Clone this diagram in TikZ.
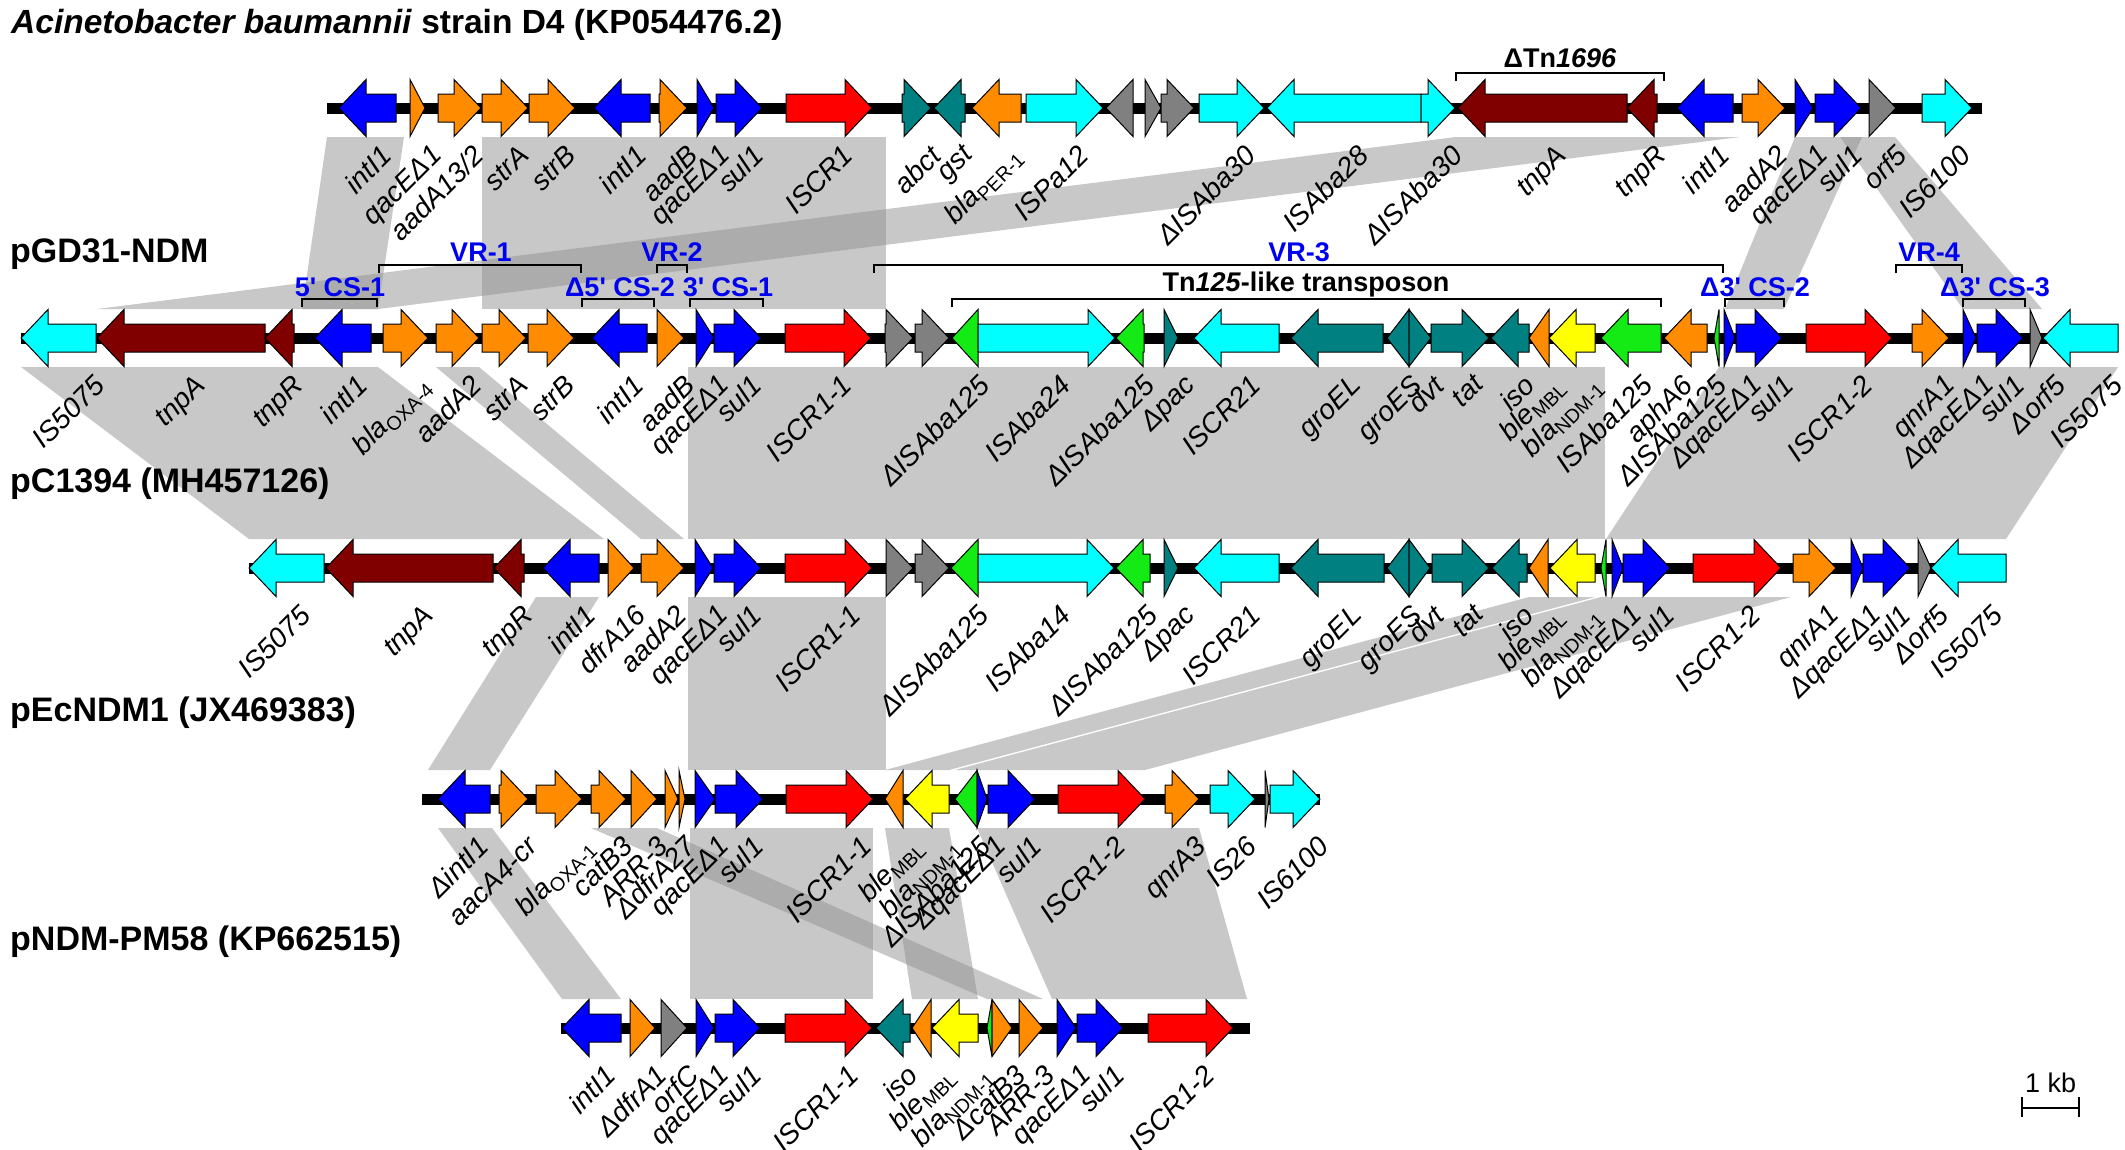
\documentclass[tikz,border=0pt]{standalone}
\usepackage{fontspec}
\setmainfont{Liberation Sans}
\definecolor{gblue}{RGB}{0,0,255}
\definecolor{gorange}{RGB}{255,140,0}
\definecolor{gcyan}{RGB}{0,255,255}
\definecolor{gdred}{RGB}{128,0,0}
\definecolor{gred}{RGB}{255,0,0}
\definecolor{gteal}{RGB}{0,128,128}
\definecolor{ggray}{RGB}{128,128,128}
\definecolor{ggreen}{RGB}{20,235,20}
\definecolor{gyellow}{RGB}{255,255,0}
\definecolor{vrblue}{RGB}{0,0,240}
\definecolor{bandc}{RGB}{146,146,146}
\newcounter{glab}
\def\ry{0}
\newcommand\sbs[1]{\textsubscript{\upshape #1}}
\newcommand\gshape[3]{%
  \pgfmathsetmacro\gHL{min(27,abs(#2-#1))}%
  \pgfmathsetmacro\gHB{(#2>#1) ? (#2-\gHL) : (#2+\gHL)}%
  \pgfmathsetmacro\yA{\ry-14}\pgfmathsetmacro\yB{\ry+14}%
  \pgfmathsetmacro\yC{\ry-28.5}\pgfmathsetmacro\yD{\ry+28.5}%
  \draw[genedraw,fill=#3] (#1,\yA) -- (\gHB,\yA) -- (\gHB,\yC) -- (#2,\ry) -- (\gHB,\yD) -- (\gHB,\yB) -- (#1,\yB) -- cycle;}
\newcommand\glab[2]{%
  \stepcounter{glab}%
  \pgfmathsetmacro\yL{\ry+35}\pgfmathsetmacro\xL{#1+12}%
  \node[genelab] (lab\arabic{glab}) at (\xL,\yL) {#2};}
% \gR[dx]{x1}{x2}{colour}{label}: arrow pointing right; \gL: pointing left
\newcommand\gR[5][0]{\gshape{#2}{#3}{#4}%
  \if\relax\detokenize{#5}\relax\else\pgfmathsetmacro\xc{(#2+#3)/2+#1}\glab{\xc}{#5}\fi}
\newcommand\gL[5][0]{\gshape{#3}{#2}{#4}%
  \if\relax\detokenize{#5}\relax\else\pgfmathsetmacro\xc{(#2+#3)/2+#1}\glab{\xc}{#5}\fi}
\newcommand\band[6]{\fill[bandf] (#3,#1) -- (#4,#1) -- (#6,#2) -- (#5,#2) -- cycle;}
\tikzset{
  genedraw/.style={draw=black, line width=1pt},
  genelab/.style={rotate=45, anchor=north east, inner sep=0pt, font=\fontsize{28}{30}\selectfont\itshape},
  bandf/.style={fill=bandc, fill opacity=0.5},
  backbone/.style={line width=11pt, black},
  brk/.style={line width=2pt, black},
  annot/.style={font=\fontsize{27}{29}\selectfont\bfseries, text=vrblue, inner sep=0pt, anchor=base},
  rowtitle/.style={font=\fontsize{34}{36}\selectfont\bfseries, anchor=base west, inner sep=0pt},
}
\begin{document}
\begin{tikzpicture}[x=1pt,y=-1pt]
\fill[white] (0,0) rectangle (2125,1149);
\useasboundingbox (0,0) rectangle (2125,1149);

% ---------- homology bands ----------
% row1 -> row2
\band{137}{309}{327}{404}{302}{378}
\band{137}{309}{482}{886}{482}{886}
\band{137}{309}{1456}{1740}{97}{378}
\band{137}{309}{1795}{1862}{1725}{1784}
\band{137}{309}{1840}{1895}{1963}{2042}
% row2 -> row3
\band{367}{539}{21}{378}{249}{604}
\band{367}{539}{436}{479}{641}{684}
\band{367}{539}{688}{1605}{688}{1605}
\band{367}{539}{1719}{2118}{1606}{2006}
% row3 -> row4
\band{597}{770}{536}{599}{428}{490}
\band{597}{770}{688}{886}{688}{886}
\band{597}{770}{1529}{1595}{885}{949}
\band{597}{770}{1601}{1791}{955}{1145}
% row4 -> row5
\band{828}{999}{438}{492}{562}{621}
\band{828}{999}{591}{657}{987}{1043}
\band{828}{999}{885}{949}{912}{978}
\band{828}{999}{690}{873}{690}{873}
\band{828}{999}{977}{1199}{1052}{1247}

% ---------- titles ----------
\node[rowtitle,font=\fontsize{33.5}{36}\selectfont\bfseries] (t0) at (11,33) {\textit{Acinetobacter baumannii} strain D4 (KP054476.2)};
\node[rowtitle] (t1) at (10,262) {pGD31-NDM};
\node[rowtitle] (t2) at (10,492) {pC1394 (MH457126)};
\node[rowtitle] (t3) at (10,721) {pEcNDM1 (JX469383)};
\node[rowtitle] (t4) at (10,950) {pNDM-PM58 (KP662515)};

% ---------- row 1 ----------
\def\ry{108}
\draw[backbone] (327,\ry) -- (1982,\ry);
\gL{339}{396}{gblue}{intI1}
\gR{410}{425}{gorange}{qacEΔ1}
\gR{438}{481}{gorange}{aadA13/2}
\gR{482}{528}{gorange}{strA}
\gR{529}{575}{gorange}{strB}
\gL{594}{650}{gblue}{intI1}
\gR{659}{687}{gorange}{aadB}
\gR{697}{714}{gblue}{qacEΔ1}
\gR{716}{762}{gblue}{sul1}
\gR{786}{872}{gred}{ISCR1}
\gR{902}{931}{gteal}{abct}
\gL{934}{965}{gteal}{gst}
\gL{972}{1021}{gorange}{bla\sbs{PER-1}}
\gR{1026}{1103}{gcyan}{ISPa12}
\gL{1106}{1133}{ggray}{}
\gR{1145}{1161}{ggray}{}
\gR{1161}{1194}{ggray}{}
\gR{1199}{1264}{gcyan}{ΔISAba30}
\gL{1267}{1421}{gcyan}{ISAba28}
\gR{1421}{1455}{gcyan}{ΔISAba30}
\gL{1458}{1627}{gdred}{tnpA}
\gL{1627}{1657}{gdred}{tnpR}
\gL{1677}{1733}{gblue}{intI1}
\gR{1742}{1785}{gorange}{aadA2}
\gR{1795}{1813}{gblue}{qacEΔ1}
\gR{1815}{1861}{gblue}{sul1}
\gR{1869}{1896}{ggray}{orf5}
\gR{1922}{1972}{gcyan}{IS6100}
\draw[brk] (1456,81) -- (1456,73) -- (1664,73) -- (1664,81);
\node[annot,text=black] (tn1696) at (1560,67) {ΔTn\textit{1696}};

% ---------- row 2 ----------
\def\ry{338}
\draw[backbone] (21,\ry) -- (2118,\ry);
\gL[22]{21}{96}{gcyan}{IS5075}
\gL{97}{265}{gdred}{tnpA}
\gL{265}{294}{gdred}{tnpR}
\gL{315}{371}{gblue}{intI1}
\gR{383}{428}{gorange}{bla\sbs{OXA-4}}
\gR{436}{479}{gorange}{aadA2}
\gR{482}{526}{gorange}{strA}
\gR{528}{574}{gorange}{strB}
\gL{592}{647}{gblue}{intI1}
\gR{657}{684}{gorange}{aadB}
\gR{696}{714}{gblue}{qacEΔ1}
\gR{714}{761}{gblue}{sul1}
\gR{785}{871}{gred}{ISCR1-1}
\gR{885}{913}{ggray}{}
\gR{915}{949}{ggray}{}
\gL{952}{978}{ggreen}{ΔISAba125}
\gR{978}{1115}{gcyan}{ISAba24}
\gL{1116}{1144}{ggreen}{ΔISAba125}
\gR{1164}{1178}{gteal}{Δpac}
\gL{1194}{1279}{gcyan}{ISCR21}
\gL{1291}{1383}{gteal}{groEL}
\gL{1387}{1409}{gteal}{groES}
\gR{1409}{1431}{gteal}{dvt}
\gR{1431}{1489}{gteal}{tat}
\gL{1491}{1529}{gteal}{iso}
\gL{1529}{1549}{gorange}{ble\sbs{MBL}}
\gL[5]{1549}{1595}{gyellow}{bla\sbs{NDM-1}}
\gL[-3]{1601}{1661}{ggreen}{ISAba125}
\gL[-17]{1664}{1707}{gorange}{aphA6}
\gL[-14]{1714}{1719}{ggreen}{ΔISAba125}
\gR[8]{1724}{1735}{gblue}{ΔqacEΔ1}
\gR[10]{1736}{1782}{gblue}{sul1}
\gR{1806}{1892}{gred}{ISCR1-2}
\gR{1912}{1949}{gorange}{qnrA1}
\gR{1963}{1976}{gblue}{ΔqacEΔ1}
\gR{1977}{2023}{gblue}{sul1}
\gR[5]{2030}{2042}{ggray}{Δorf5}
\gL[18]{2043}{2118}{gcyan}{IS5075}
% annotations
\draw[brk] (302,307) -- (302,299) -- (377,299) -- (377,307);
\node[annot] (cs1) at (340,296) {5\textquotesingle{} CS-1};
\draw[brk] (379,273) -- (379,265) -- (581,265) -- (581,273);
\node[annot] (vr1) at (481,261) {VR-1};
\draw[brk] (582,307) -- (582,299) -- (654,299) -- (654,307);
\node[annot] (cs2) at (620,296) {Δ5\textquotesingle{} CS-2};
\draw[brk] (657,273) -- (657,265) -- (687,265) -- (687,273);
\node[annot] (vr2) at (672,261) {VR-2};
\draw[brk] (690,307) -- (690,299) -- (763,299) -- (763,307);
\node[annot] (cs3) at (728,296) {3\textquotesingle{} CS-1};
\draw[brk] (874,273) -- (874,265) -- (1723,265) -- (1723,273);
\node[annot] (vr3) at (1299,261) {VR-3};
\draw[brk] (952,307) -- (952,299) -- (1661,299) -- (1661,307);
\node[annot,text=black] (tn125) at (1306,291) {Tn\textit{125}-like transposon};
\draw[brk] (1725,307) -- (1725,299) -- (1784,299) -- (1784,307);
\node[annot] (cs4) at (1755,296) {Δ3\textquotesingle{} CS-2};
\draw[brk] (1896,273) -- (1896,265) -- (1962,265) -- (1962,273);
\node[annot] (vr4) at (1929,261) {VR-4};
\draw[brk] (1963,307) -- (1963,299) -- (2025,299) -- (2025,307);
\node[annot] (cs5) at (1995,296) {Δ3\textquotesingle{} CS-3};

% ---------- row 3 ----------
\def\ry{568}
\draw[backbone] (249,\ry) -- (2006,\ry);
\gL{249}{324}{gcyan}{IS5075}
\gL{326}{493}{gdred}{tnpA}
\gL{494}{524}{gdred}{tnpR}
\gL{543}{599}{gblue}{intI1}
\gR{608}{634}{gorange}{dfrA16}
\gR{641}{684}{gorange}{aadA2}
\gR{695}{713}{gblue}{qacEΔ1}
\gR{714}{761}{gblue}{sul1}
\gR[8]{785}{872}{gred}{ISCR1-1}
\gR{886}{913}{ggray}{}
\gR{915}{949}{ggray}{}
\gL{951}{978}{ggreen}{ΔISAba125}
\gR{978}{1114}{gcyan}{ISAba14}
\gL{1116}{1150}{ggreen}{ΔISAba125}
\gR{1164}{1178}{gteal}{Δpac}
\gL{1194}{1279}{gcyan}{ISCR21}
\gL{1291}{1384}{gteal}{groEL}
\gL{1387}{1409}{gteal}{groES}
\gR{1409}{1430}{gteal}{dvt}
\gR{1432}{1489}{gteal}{tat}
\gL{1492}{1527}{gteal}{iso}
\gL{1529}{1548}{gorange}{ble\sbs{MBL}}
\gL[4]{1550}{1595}{gyellow}{bla\sbs{NDM-1}}
\gL{1601}{1606}{ggreen}{}
\gR{1612}{1623}{gblue}{ΔqacEΔ1}
\gR[4]{1623}{1670}{gblue}{sul1}
\gR{1693}{1781}{gred}{ISCR1-2}
\gR{1793}{1836}{gorange}{qnrA1}
\gR{1851}{1863}{gblue}{ΔqacEΔ1}
\gR{1863}{1910}{gblue}{sul1}
\gR{1918}{1931}{ggray}{Δorf5}
\gL[10]{1931}{2006}{gcyan}{IS5075}

% ---------- row 4 ----------
\def\ry{799}
\draw[backbone] (422,\ry) -- (1320,\ry);
\gL{438}{490}{gblue}{ΔintI1}
\gR{499}{528}{gorange}{aacA4-cr}
\gR[10]{536}{582}{gorange}{bla\sbs{OXA-1}}
\gR{591}{626}{gorange}{catB3}
\gR{631}{657}{gorange}{ARR-3}
\gR{665}{678}{gorange}{ΔdfrA27}
\gR{679}{685}{gorange}{}
\gR{695}{715}{gblue}{qacEΔ1}
\gR{715}{763}{gblue}{sul1}
\gR[18]{786}{873}{gred}{ISCR1-1}
\gL[4]{885}{903}{gorange}{ble\sbs{MBL}}
\gL[8]{905}{949}{gyellow}{bla\sbs{NDM-1}}
\gL{955}{977}{ggreen}{ΔISAba125}
\gR{977}{987}{gblue}{ΔqacEΔ1}
\gR[6]{988}{1035}{gblue}{sul1}
\gR{1058}{1145}{gred}{ISCR1-2}
\gR{1165}{1199}{gorange}{qnrA3}
\gR{1210}{1255}{gcyan}{IS26}
\gR{1265}{1269}{ggray}{}
\gR[10]{1270}{1320}{gcyan}{IS6100}

% ---------- row 5 ----------
\def\ry{1028}
\draw[backbone] (561,\ry) -- (1250,\ry);
\gL{562}{621}{gblue}{intI1}
\gR{630}{655}{gorange}{ΔdfrA1}
\gR{661}{687}{ggray}{orfC}
\gR{696}{714}{gblue}{qacEΔ1}
\gR{715}{760}{gblue}{sul1}
\gR[6]{785}{872}{gred}{ISCR1-1}
\gL{876}{910}{gteal}{iso}
\gL[8]{912}{931}{gorange}{ble\sbs{MBL}}
\gL[12]{932}{978}{gyellow}{bla\sbs{NDM-1}}
\gL{987}{992}{ggreen}{}
\gR{992}{1012}{gorange}{ΔcatB3}
\gR{1019}{1043}{gorange}{ARR-3}
\gR{1057}{1076}{gblue}{qacEΔ1}
\gR{1077}{1123}{gblue}{sul1}
\gR{1148}{1233}{gred}{ISCR1-2}

% ---------- scale bar ----------
\draw[brk] (2022,1097) -- (2022,1117);
\draw[brk] (2079,1097) -- (2079,1117);
\draw[brk] (2022,1108) -- (2079,1108);
\node[font=\fontsize{27}{29}\selectfont, anchor=base, inner sep=0pt] (kb) at (2050.5,1092) {1 kb};
\end{tikzpicture}
\end{document}
